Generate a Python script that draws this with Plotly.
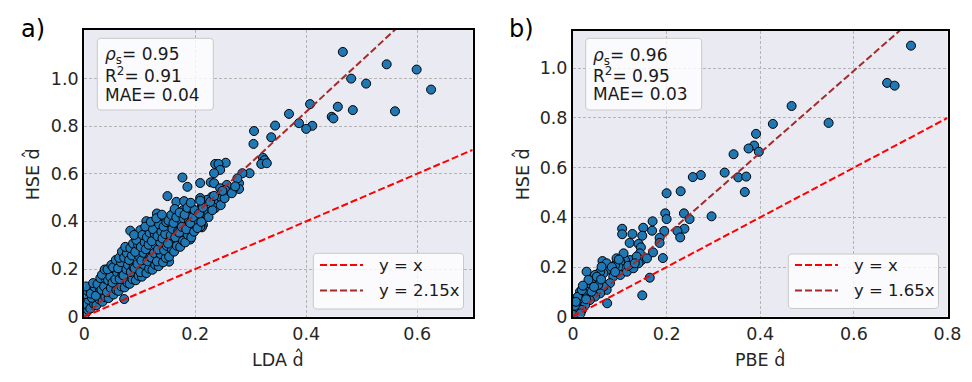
import plotly.graph_objects as go

# the page body adds an 8px margin, so the figure is drawn 8px smaller and all
# pixel positions below are measured in window pixels and shifted by OFF
OFF = 8
WIN_W, WIN_H = 972, 382
W, H = WIN_W - OFF, WIN_H - OFF

# ---------------- data ----------------
lda_points = [
    # sparse upper part / outliers
    (0.466, 1.111), (0.545, 1.059), (0.599, 1.037), (0.481, 0.999), (0.508, 0.978),
    (0.625, 0.953), (0.407, 0.892), (0.457, 0.881), (0.484, 0.867), (0.560, 0.862),
    (0.369, 0.851), (0.446, 0.839), (0.449, 0.832), (0.387, 0.812), (0.344, 0.802),
    (0.411, 0.801), (0.400, 0.788), (0.306, 0.779), (0.337, 0.753), (0.305, 0.725),
    (0.322, 0.667), (0.325, 0.657), (0.319, 0.641), (0.329, 0.644), (0.298, 0.602),
    (0.285, 0.602), (0.279, 0.560), (0.279, 0.536), (0.269, 0.536), (0.257, 0.553),
    (0.255, 0.646), (0.236, 0.641), (0.242, 0.641), (0.245, 0.616), (0.234, 0.602),
    (0.228, 0.564), (0.234, 0.560), (0.245, 0.539), (0.254, 0.532), (0.209, 0.561),
    (0.230, 0.503), (0.242, 0.503), (0.248, 0.497), (0.221, 0.490), (0.233, 0.483),
    (0.209, 0.498), (0.212, 0.462), (0.224, 0.440), (0.215, 0.435), (0.214, 0.385),
    (0.212, 0.375), (0.236, 0.456), (0.177, 0.584), (0.186, 0.545), (0.276, 0.580),
    (0.150, 0.506), (0.166, 0.482), (0.180, 0.485), (0.178, 0.447), (0.194, 0.454),
    (0.188, 0.419), (0.208, 0.433), (0.203, 0.398), (0.196, 0.363), (0.191, 0.324),
    (0.209, 0.377), (0.161, 0.433), (0.173, 0.405), (0.182, 0.363), (0.167, 0.349),
    (0.155, 0.321), (0.143, 0.293), (0.152, 0.266), (0.153, 0.231), (0.131, 0.433),
    (0.137, 0.405), (0.125, 0.363), (0.115, 0.321), (0.112, 0.401), (0.101, 0.363),
    (0.083, 0.361), (0.072, 0.074),
    # dense band
    (0.002, 0.012), (0.007, 0.028), (0.004, 0.053), (0.008, 0.071), (0.001, 0.094),
    (0.006, 0.108), (0.003, 0.127),
    (0.011, 0.034), (0.018, 0.052), (0.014, 0.079), (0.012, 0.097), (0.019, 0.124),
    (0.016, 0.141),
    (0.022, 0.048), (0.027, 0.073), (0.021, 0.088), (0.028, 0.118), (0.024, 0.137),
    (0.029, 0.162),
    (0.033, 0.063), (0.038, 0.082), (0.031, 0.113), (0.036, 0.127), (0.039, 0.158),
    (0.032, 0.176), (0.037, 0.198),
    (0.044, 0.078), (0.041, 0.103), (0.048, 0.121), (0.043, 0.153), (0.047, 0.168),
    (0.042, 0.199), (0.049, 0.217),
    (0.053, 0.093), (0.058, 0.112), (0.051, 0.143), (0.056, 0.157), (0.059, 0.188),
    (0.052, 0.207), (0.057, 0.238),
    (0.062, 0.108), (0.067, 0.127), (0.064, 0.158), (0.069, 0.176), (0.061, 0.203),
    (0.066, 0.229), (0.063, 0.247), (0.068, 0.273),
    (0.073, 0.123), (0.078, 0.142), (0.071, 0.173), (0.076, 0.198), (0.079, 0.217),
    (0.072, 0.248), (0.077, 0.266), (0.074, 0.293),
    (0.082, 0.138), (0.087, 0.157), (0.084, 0.188), (0.089, 0.206), (0.081, 0.238),
    (0.086, 0.257), (0.083, 0.288), (0.088, 0.307),
    (0.093, 0.153), (0.098, 0.172), (0.091, 0.203), (0.096, 0.221), (0.099, 0.253),
    (0.092, 0.272), (0.097, 0.303), (0.094, 0.322), (0.090, 0.343),
    (0.104, 0.168), (0.101, 0.187), (0.108, 0.218), (0.103, 0.236), (0.107, 0.268),
    (0.102, 0.293), (0.109, 0.312), (0.105, 0.343),
    (0.112, 0.183), (0.117, 0.202), (0.114, 0.233), (0.119, 0.251), (0.111, 0.283),
    (0.116, 0.302), (0.113, 0.333), (0.118, 0.352), (0.110, 0.378),
    (0.123, 0.197), (0.128, 0.218), (0.121, 0.248), (0.126, 0.267), (0.129, 0.298),
    (0.122, 0.317), (0.127, 0.348), (0.124, 0.367), (0.120, 0.398),
    (0.134, 0.212), (0.131, 0.232), (0.138, 0.263), (0.133, 0.282), (0.137, 0.313),
    (0.132, 0.338), (0.139, 0.357), (0.135, 0.388), (0.130, 0.413),
    (0.142, 0.228), (0.147, 0.247), (0.144, 0.278), (0.149, 0.297), (0.141, 0.328),
    (0.146, 0.347), (0.143, 0.378), (0.148, 0.397), (0.140, 0.428),
    (0.153, 0.252), (0.158, 0.283), (0.151, 0.307), (0.156, 0.342), (0.159, 0.368),
    (0.152, 0.403), (0.157, 0.427),
    (0.162, 0.273), (0.167, 0.298), (0.164, 0.333), (0.169, 0.357), (0.161, 0.393),
    (0.166, 0.417), (0.163, 0.452),
    (0.173, 0.293), (0.178, 0.318), (0.171, 0.353), (0.176, 0.377), (0.179, 0.413),
    (0.172, 0.437),
    (0.182, 0.312), (0.187, 0.343), (0.184, 0.367), (0.189, 0.402), (0.181, 0.428),
    (0.186, 0.457),
    (0.193, 0.333), (0.198, 0.357), (0.191, 0.393), (0.196, 0.418), (0.199, 0.447),
    (0.192, 0.478),
    (0.204, 0.372), (0.211, 0.398), (0.207, 0.433), (0.214, 0.458), (0.209, 0.487),
    (0.224, 0.418), (0.231, 0.447), (0.227, 0.482), (0.234, 0.507),
    (0.246, 0.468), (0.253, 0.497), (0.249, 0.528),
    (0.266, 0.518), (0.272, 0.547),
]

pbe_points = [
    (0.722, 1.091), (0.671, 0.941), (0.687, 0.930), (0.467, 0.848), (0.427, 0.776),
    (0.546, 0.780), (0.391, 0.736), (0.387, 0.689), (0.375, 0.677), (0.397, 0.664),
    (0.343, 0.654), (0.324, 0.580), (0.273, 0.570), (0.256, 0.562), (0.353, 0.561),
    (0.370, 0.564), (0.367, 0.502), (0.230, 0.505), (0.200, 0.497), (0.296, 0.404),
    (0.237, 0.416), (0.197, 0.416), (0.200, 0.393), (0.249, 0.393), (0.238, 0.354),
    (0.223, 0.345), (0.229, 0.319), (0.195, 0.345), (0.185, 0.317), (0.185, 0.297),
    (0.169, 0.346), (0.170, 0.384), (0.171, 0.259), (0.192, 0.236), (0.105, 0.354),
    (0.105, 0.332), (0.127, 0.333), (0.150, 0.358), (0.148, 0.326), (0.121, 0.297),
    (0.140, 0.293), (0.145, 0.279), (0.143, 0.244), (0.164, 0.157), (0.148, 0.086),
    (0.073, 0.054), (0.029, 0.181), (0.063, 0.224),
    (0.143, 0.255), (0.147, 0.228), (0.140, 0.215), (0.122, 0.228), (0.111, 0.228),
    (0.101, 0.221), (0.097, 0.201), (0.090, 0.208), (0.079, 0.201), (0.072, 0.188),
    (0.065, 0.175), (0.058, 0.181), (0.051, 0.148), (0.043, 0.135), (0.036, 0.114),
    (0.029, 0.101), (0.022, 0.081), (0.015, 0.060), (0.008, 0.040), (0.004, 0.020),
    (0.086, 0.161), (0.101, 0.168), (0.115, 0.181), (0.129, 0.195), (0.079, 0.135),
    (0.072, 0.108), (0.065, 0.121), (0.058, 0.094), (0.047, 0.081), (0.036, 0.067),
    (0.026, 0.047), (0.019, 0.027), (0.136, 0.242), (0.158, 0.235), (0.108, 0.255),
    (0.093, 0.235), (0.072, 0.215), (0.061, 0.201), (0.047, 0.168), (0.033, 0.148),
    (0.015, 0.101), (0.011, 0.081), (0.001, 0.007), (0.054, 0.128), (0.040, 0.101),
    (0.004, 0.044), (0.010, 0.080), (0.019, 0.107), (0.021, 0.125), (0.051, 0.161),
    (0.083, 0.200), (0.098, 0.230), (0.016, 0.013), (0.006, 0.060), (0.028, 0.070),
    (0.118, 0.205), (0.132, 0.215), (0.090, 0.180), (0.060, 0.150), (0.045, 0.120),
]

lda_x = [p[0] for p in lda_points]
lda_y = [p[1] for p in lda_points]
pbe_x = [p[0] for p in pbe_points]
pbe_y = [p[1] for p in pbe_points]

lda_slope = 2.15
pbe_slope = 1.65
lda_stats = ["0.95", "0.91", "0.04"]
pbe_stats = ["0.96", "0.95", "0.03"]

x_ticks_a = [0, 0.2, 0.4, 0.6]
x_ticks_b = [0, 0.2, 0.4, 0.6, 0.8]
y_ticks = [0, 0.2, 0.4, 0.6, 0.8, 1.0]


def lab(v):
    return "0" if v == 0 else f"{v:.1f}"


def fx(px):
    return (px - OFF) / W


def fy(py):
    return 1 - (py - OFF) / H


FONT = "DejaVu Sans"
TXT = "#262626"
BG = "#EAEAF2"
MARK = dict(size=9, color="#1f77b4", line=dict(color="black", width=1))
DASH = "7px,3px"
FS = 17.5
FS_BOX = 17

fig = go.Figure()

# panel a
fig.add_trace(go.Scatter(x=lda_x, y=lda_y, mode="markers", marker=MARK,
                         xaxis="x", yaxis="y", showlegend=False))
fig.add_trace(go.Scatter(x=[0, 0.7], y=[0, 0.7], mode="lines",
                         line=dict(color="red", width=2, dash=DASH),
                         xaxis="x", yaxis="y", name="y = x", showlegend=False))
fig.add_trace(go.Scatter(x=[0, 0.7], y=[0, lda_slope * 0.7], mode="lines",
                         line=dict(color="#A52A2A", width=2, dash=DASH),
                         xaxis="x", yaxis="y", name=f"y = {lda_slope}x", showlegend=False))
# panel b
fig.add_trace(go.Scatter(x=pbe_x, y=pbe_y, mode="markers", marker=MARK,
                         xaxis="x2", yaxis="y2", showlegend=False))
fig.add_trace(go.Scatter(x=[0, 0.8], y=[0, 0.8], mode="lines",
                         line=dict(color="red", width=2, dash=DASH),
                         xaxis="x2", yaxis="y2", name="y = x", showlegend=False))
fig.add_trace(go.Scatter(x=[0, 0.8], y=[0, pbe_slope * 0.8], mode="lines",
                         line=dict(color="#A52A2A", width=2, dash=DASH),
                         xaxis="x2", yaxis="y2", name=f"y = {pbe_slope}x", showlegend=False))


def axis_common():
    return dict(showgrid=True, gridcolor="#b5b5b5", griddash="3px,2px", gridwidth=1,
                showline=True, mirror=True, linecolor="black", linewidth=2,
                zeroline=False, ticks="", fixedrange=True, automargin=False,
                tickfont=dict(family=FONT, size=FS, color=TXT))


XA = (84.2, 472.7)
XB = (573.0, 947.5)
xa = axis_common()
xa.update(domain=[fx(XA[0]), fx(XA[1])], range=[0, 0.7], tickvals=x_ticks_a,
          ticktext=[lab(v) for v in x_ticks_a], anchor="y")
ya = axis_common()
ya.update(domain=[fy(316.7), fy(30)], range=[0, 1.203], tickvals=y_ticks,
          ticktext=[lab(v) for v in y_ticks], anchor="x")
xb = axis_common()
xb.update(domain=[fx(XB[0]), fx(XB[1])], range=[0, 0.8], tickvals=x_ticks_b,
          ticktext=[lab(v) for v in x_ticks_b], anchor="y2")
yb = axis_common()
yb.update(domain=[fy(316.7), fy(31)], range=[0, 1.15], tickvals=y_ticks,
          ticktext=[lab(v) for v in y_ticks], anchor="x2")


def rounded_box(x0, y0, x1, y1, r=4):
    pts = [
        ("M", x0 + r, y0), ("L", x1 - r, y0), ("Q", x1, y0, x1, y0 + r),
        ("L", x1, y1 - r), ("Q", x1, y1, x1 - r, y1), ("L", x0 + r, y1),
        ("Q", x0, y1, x0, y1 - r), ("L", x0, y0 + r), ("Q", x0, y0, x0 + r, y0),
    ]
    s = ""
    for p in pts:
        coords = p[1:]
        parts = [f"{fx(coords[i]):.5f},{fy(coords[i + 1]):.5f}" for i in range(0, len(coords), 2)]
        s += p[0] + " " + " ".join(parts) + " "
    return s + "Z"


shapes = []
annotations = []


def ann(x, y, text, size=FS, color=TXT, xanchor="center", angle=0):
    annotations.append(dict(xref="paper", yref="paper", x=fx(x), y=fy(y), xanchor=xanchor,
                            yanchor="middle", text=text, showarrow=False, textangle=angle,
                            font=dict(family=FONT, size=size, color=color)))


HAT_DX = 19.8   # offset of the d centre from the title centre (px)
HAT_UP = 3.5

panels = [
    dict(sbox=(97.3, 38.3, 213.3, 110), stx=102.7, sty=[55, 75, 94.5],
         lbox=(313.3, 253.3, 463.5, 309), lsx=(320, 363), ltx=377, lty=[265, 290.5],
         slope=lda_slope, stats=lda_stats, plabel="a)", plx=19, xr=XA, xlabel="LDA",
         ytx=33.3),
    dict(sbox=(585.7, 38.3, 701.7, 110), stx=590.7, sty=[56, 75, 94.3],
         lbox=(788.3, 254, 938.5, 308.5), lsx=(795, 838), ltx=851.5, lty=[265, 290.5],
         slope=pbe_slope, stats=pbe_stats, plabel="b)", plx=507, xr=XB, xlabel="PBE",
         ytx=523.3),
]

for p in panels:
    shapes.append(dict(type="path", xref="paper", yref="paper", path=rounded_box(*p["sbox"]),
                       fillcolor="rgba(255,255,255,0.8)", line=dict(color="#c8c8c8", width=1),
                       layer="above"))
    shapes.append(dict(type="path", xref="paper", yref="paper", path=rounded_box(*p["lbox"]),
                       fillcolor="rgba(255,255,255,0.8)", line=dict(color="#c8c8c8", width=1),
                       layer="above"))
    stat_texts = [f"<i>ρ</i><sub>s</sub>= {p['stats'][0]}",
                  f"R<sup>2</sup>= {p['stats'][1]}",
                  f"MAE= {p['stats'][2]}"]
    for t, yy in zip(stat_texts, p["sty"]):
        ann(p["stx"], yy, t, size=FS_BOX, color="#1a1a1a", xanchor="left")
    leg = [("y = x", "red"), (f"y = {p['slope']}x", "#A52A2A")]
    for (t, c), yy in zip(leg, p["lty"]):
        shapes.append(dict(type="line", xref="paper", yref="paper",
                           x0=fx(p["lsx"][0]), x1=fx(p["lsx"][1]), y0=fy(yy), y1=fy(yy),
                           line=dict(color=c, width=2, dash=DASH), layer="above"))
        ann(p["ltx"], yy, t, size=16.5, color="#1a1a1a", xanchor="left")
    ann(p["plx"], 29, p["plabel"], size=24, color="black", xanchor="left")
    # x-axis title with a hat over the d
    xc = (p["xr"][0] + p["xr"][1]) / 2
    ann(xc, 360, f"{p['xlabel']} d")
    ann(xc + HAT_DX, 360 - HAT_UP, "ˆ")
    # y-axis title with a hat over the d
    ann(p["ytx"], 174, "HSE d", angle=-90)
    ann(p["ytx"] - HAT_UP, 174 - HAT_DX, "ˆ", angle=-90)

fig.update_layout(
    width=W, height=H, autosize=False,
    margin=dict(l=0, r=0, t=0, b=0),
    paper_bgcolor="white", plot_bgcolor=BG,
    xaxis=xa, yaxis=ya, xaxis2=xb, yaxis2=yb,
    shapes=shapes, annotations=annotations,
    font=dict(family=FONT, color=TXT),
    showlegend=False,
)

fig.write_html("out.html")
